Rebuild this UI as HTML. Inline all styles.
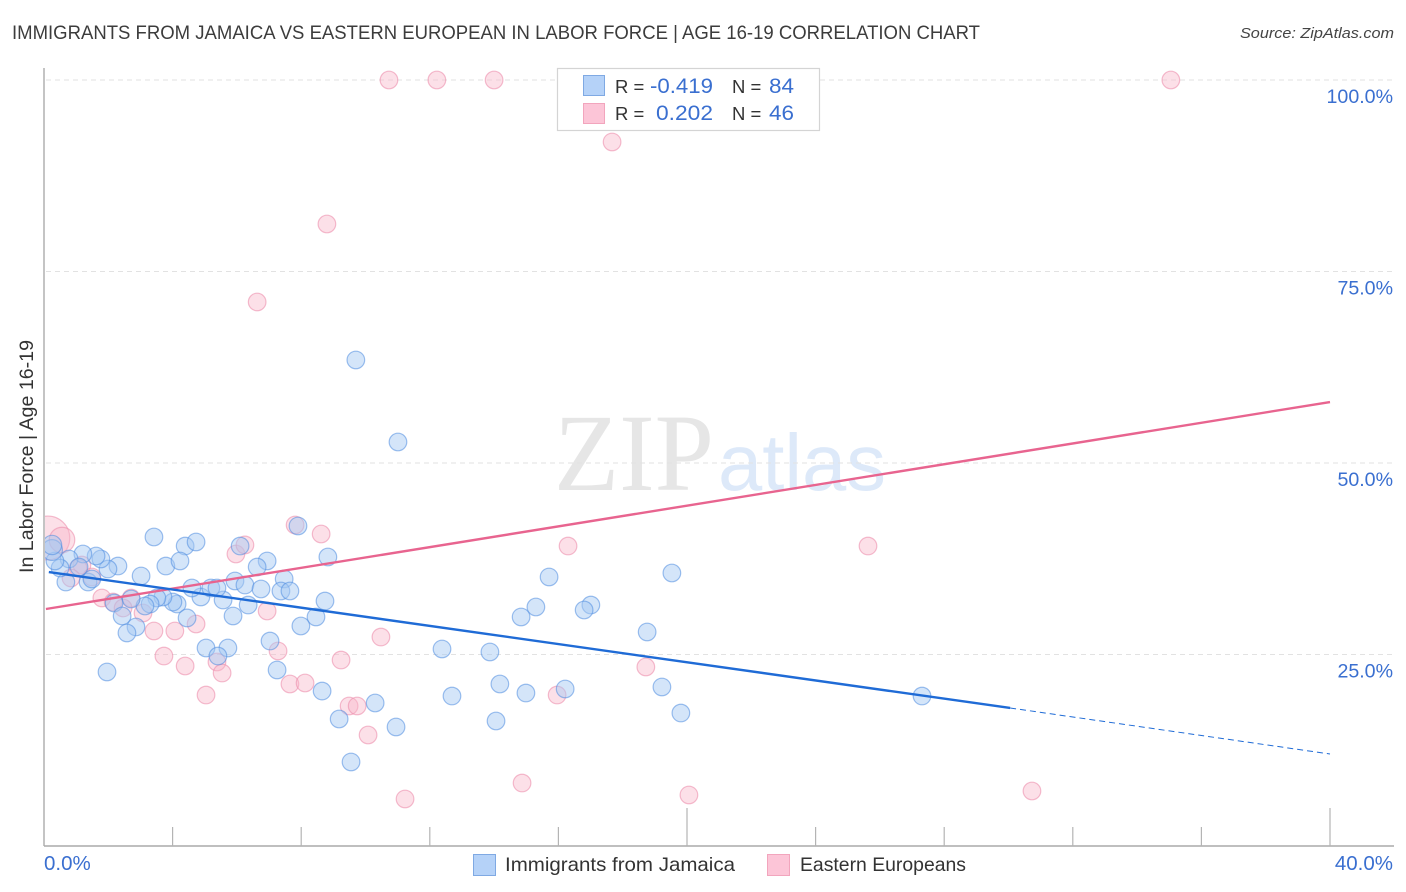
<!DOCTYPE html>
<html>
<head>
<meta charset="utf-8">
<title>Immigrants from Jamaica vs Eastern European in Labor Force | Age 16-19</title>
<style>
html,body{margin:0;padding:0;background:#fff;}
svg{display:block;font-family:"Liberation Sans",sans-serif;}
</style>
</head>
<body>
<svg id="chart" width="1406" height="892" viewBox="0 0 1406 892" xmlns="http://www.w3.org/2000/svg">
  <defs>
    <clipPath id="plot-clip"><rect x="45" y="60" width="1349" height="786"/></clipPath>
  </defs>
  <text x="12" y="39" font-size="19.5" fill="#3c3c3c" textLength="968" lengthAdjust="spacingAndGlyphs">IMMIGRANTS FROM JAMAICA VS EASTERN EUROPEAN IN LABOR FORCE | AGE 16-19 CORRELATION CHART</text>
  <text x="1394" y="38" font-size="15" font-style="italic" fill="#444" text-anchor="end" textLength="154" lengthAdjust="spacingAndGlyphs">Source: ZipAtlas.com</text>
  <text transform="translate(33,456.5) rotate(-90)" font-size="19" fill="#333" text-anchor="middle" textLength="233" lengthAdjust="spacingAndGlyphs">In Labor Force | Age 16-19</text>

  <g>
    <text x="554" y="490" font-family="'Liberation Serif',serif" font-size="110" fill="#e6e6e6" textLength="160" lengthAdjust="spacingAndGlyphs">ZIP</text>
    <text x="718" y="490" font-size="80" fill="#dde9f9" textLength="168" lengthAdjust="spacingAndGlyphs">atlas</text>
  </g>

  <g id="grid"></g>
  <g id="axes"></g>
  <g clip-path="url(#plot-clip)">
    <g id="points-pink"></g>
    <g id="points-blue"></g>
  </g>
  <g id="trends"></g>
  <g id="tick-labels"></g>

  <g>
    <rect x="557.5" y="68.5" width="262" height="62" fill="#fff" stroke="#d4d4d4" stroke-width="1.2"/>
    <rect x="583.5" y="75.5" width="21" height="20" fill="#b5d2f8" stroke="#7fa9e3" stroke-width="1"/>
    <rect x="583.5" y="103.5" width="21" height="20" fill="#fcc5d7" stroke="#f2a5bd" stroke-width="1"/>
    <text x="615" y="93" font-size="18.5" fill="#333">R =</text>
    <text x="713" y="93" font-size="21" fill="#3a6fd0" text-anchor="end" textLength="63" lengthAdjust="spacingAndGlyphs">-0.419</text>
    <text x="732" y="93" font-size="18.5" fill="#333">N =</text>
    <text x="769" y="93" font-size="21" fill="#3a6fd0" textLength="25" lengthAdjust="spacingAndGlyphs">84</text>
    <text x="615" y="120" font-size="18.5" fill="#333">R =</text>
    <text x="713" y="120" font-size="21" fill="#3a6fd0" text-anchor="end" textLength="57" lengthAdjust="spacingAndGlyphs">0.202</text>
    <text x="732" y="120" font-size="18.5" fill="#333">N =</text>
    <text x="769" y="120" font-size="21" fill="#3a6fd0" textLength="25" lengthAdjust="spacingAndGlyphs">46</text>
  </g>

  <g>
    <rect x="473.5" y="854.5" width="22" height="21" fill="#b5d2f8" stroke="#7fa9e3" stroke-width="1"/>
    <text x="505" y="871" font-size="19.5" fill="#333" textLength="230" lengthAdjust="spacingAndGlyphs">Immigrants from Jamaica</text>
    <rect x="767.5" y="854.5" width="22" height="21" fill="#fcc5d7" stroke="#f2a5bd" stroke-width="1"/>
    <text x="800" y="871" font-size="19.5" fill="#333" textLength="166" lengthAdjust="spacingAndGlyphs">Eastern Europeans</text>
  </g>
</svg>
<script>
var xTickValues = [0, 4, 8, 12, 16, 20, 24, 28, 32, 36, 40];
var xMajorTicks = [20, 40];
var xLabelValues = [0, 40];
var xLabelTexts = ["0.0%", "40.0%"];
var yTickValues = [100, 75, 50, 25];
var yTickLabels = ["100.0%", "75.0%", "50.0%", "25.0%"];

var jamaicaX = [3.42,4.39,4.73,3.79,4.23,6.10,7.90,8.83,6.94,6.63,7.47,5.94,6.25,6.75,7.37,7.65,8.74,8.46,7.99,6.35,5.57,5.88,4.88,4.60,5.19,5.38,4.14,4.01,3.70,3.51,3.30,3.14,2.71,2.18,2.43,2.86,2.58,3.02,2.30,1.99,1.77,1.62,1.21,1.37,0.68,0.78,0.50,0.34,0.25,0.25,1.09,1.49,4.45,5.04,5.72,5.41,7.03,7.25,8.65,9.18,1.96,9.70,11.01,15.71,15.30,14.84,17.01,16.80,18.76,19.53,12.38,13.87,14.18,14.99,16.21,12.69,14.06,19.22,19.81,27.31,10.30,10.95,9.55];
var jamaicaY = [40.34,39.16,39.69,36.55,37.21,39.16,41.78,37.73,37.21,36.42,34.86,34.60,34.07,33.55,33.29,33.29,31.98,29.90,28.72,31.46,32.11,30.03,32.51,33.68,33.68,33.68,31.59,31.85,32.51,32.38,31.59,31.33,32.25,31.72,30.03,28.59,27.81,35.25,36.55,36.16,37.47,37.86,38.12,34.46,34.46,37.47,36.29,37.21,38.64,39.30,36.42,34.86,29.77,25.85,25.85,24.80,26.76,22.98,20.23,16.58,22.72,63.45,52.74,35.12,31.20,29.90,31.46,30.81,27.94,35.64,25.72,25.33,21.15,19.97,20.50,19.58,16.32,20.76,17.36,19.58,18.67,15.54,10.97];
var jamaicaWeight = [1,1,1,1,1,1,1,1,1,1,1,1,1,1,1,1,1,1,1,1,1,1,1,1,1,1,1,1,1,1,1,1,1,1,1,1,1,1,1,1,1,1,1,1,1,1,1,1,1.4,1.2,1,1,1,1,1,1,1,1,1,1,1,1,1,1,1,1,1,1,1,1,1,1,1,1,1,1,1,1,1,1,1,1,1];

var easternX = [10.73,12.22,14.00,35.05,17.67,8.80,6.63,0.12,0.56,1.18,1.06,0.84,1.49,1.80,2.15,2.71,2.46,3.08,3.42,4.07,4.73,3.73,4.39,5.04,5.38,5.54,5.97,6.25,7.81,8.62,6.94,7.28,7.65,8.12,9.24,9.49,9.74,10.48,10.08,11.23,14.87,20.06,30.73,16.30,25.63,18.72,15.96];
var easternY = [100,100,100,100,91.91,81.20,71.02,40.21,39.95,36.68,36.29,34.99,35.12,32.38,31.85,32.38,31.07,30.42,28.07,28.07,28.98,24.80,23.50,19.71,24.02,22.58,38.12,39.30,41.91,40.73,30.68,25.46,21.15,21.28,24.28,18.28,18.28,27.28,14.49,6.14,8.22,6.66,7.18,39.16,39.16,23.37,19.71];
var easternWeight = [1,1,1,1,1,1,1,6.2,2.1,1,1,1,1,1,1,1,1,1,1,1,1,1,1,1,1,1,1,1,1,1,1,1,1,1,1,1,1,1,1,1,1,1,1,1,1,1,1];

var jamaicaTrendX = [0.15, 30.05];
var jamaicaTrendY = [35.77, 18.02];
var jamaicaProjectedX = [30.05, 40];
var jamaicaProjectedY = [18.02, 12.01];
var easternTrendX = [0.06, 40];
var easternTrendY = [30.94, 57.96];

var NS = "http://www.w3.org/2000/svg";
function xScale(v){ return 44 + v * 32.15; }
function yScale(v){ return 846 - v * 7.66; }
function make(parentId, tag, attrs){
  var el = document.createElementNS(NS, tag);
  for (var k in attrs) el.setAttribute(k, attrs[k]);
  document.getElementById(parentId).appendChild(el);
  return el;
}

yTickValues.forEach(function(v, i){
  var g = make("grid", "line", {x1:46, x2:1394, y1:yScale(v), y2:yScale(v), stroke:"#e2e2e2", "stroke-width":1, "stroke-dasharray":"5 4"});
  
  
  var t = make("tick-labels", "text", {x:1393, y:yScale(v)+23, "font-size":19.6, fill:"#3a6fd0", "text-anchor":"end"});
  t.textContent = yTickLabels[i];
  
  
});

var yAxisLine = make("axes", "line", {x1:44, x2:44, y1:68, y2:846, stroke:"#aaa", "stroke-width":1.4});


var xAxisLine = make("axes", "line", {x1:44, x2:1394, y1:846, y2:846, stroke:"#aaa", "stroke-width":1.4});



xTickValues.forEach(function(v){
  if (v === 0) return;
  var major = xMajorTicks.indexOf(v) >= 0;
  var tk = make("axes", "line", {x1:xScale(v), x2:xScale(v), y1:major ? 808 : 827, y2:846, stroke:"#b4b4b4", "stroke-width":1.2});
  
  
});

xLabelValues.forEach(function(v, i){
  var t = make("tick-labels", "text", {x: i === 0 ? xScale(v) : 1393, y:870, "font-size":20.5, fill:"#3a6fd0", "text-anchor": i === 0 ? "start" : "end"});
  t.textContent = xLabelTexts[i];
  
  
});

function drawPoints(groupId, xs, ys, weights, fill, stroke, fillOpacity, strokeOpacity){
  xs.forEach(function(x, i){
    var c = make(groupId, "circle", {cx:xScale(x), cy:yScale(ys[i]), r:8.8 * Math.sqrt(weights[i]), fill:fill, "fill-opacity":fillOpacity, stroke:stroke, "stroke-opacity":strokeOpacity, "stroke-width":1.2});
    
    
  });
}
drawPoints("points-pink", easternX, easternY, easternWeight, "#f9b4c9", "#ec8fae", 0.42, 0.6);
drawPoints("points-blue", jamaicaX, jamaicaY, jamaicaWeight, "#a6c8f3", "#4f8ce0", 0.48, 0.55);

function drawLine(xs, ys, color, width, dash, name){
  var l = make("trends", "line", {x1:xScale(xs[0]), y1:yScale(ys[0]), x2:xScale(xs[1]), y2:yScale(ys[1]), stroke:color, "stroke-width":width});
  if (dash) l.setAttribute("stroke-dasharray", dash);
  
  
}
drawLine(easternTrendX, easternTrendY, "#e8648f", 2.4, null, "eastern-trend-line");
drawLine(jamaicaTrendX, jamaicaTrendY, "#1f6bd6", 2.4, null, "jamaica-trend-line");
drawLine(jamaicaProjectedX, jamaicaProjectedY, "#1f6bd6", 1, "6 4", "jamaica-trend-projection");
</script>
</body>
</html>
